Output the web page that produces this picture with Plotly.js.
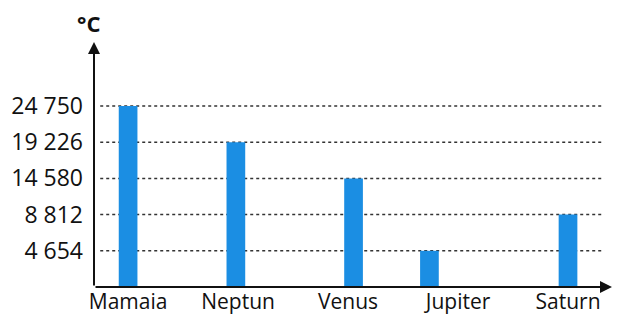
<!DOCTYPE html>
<html><head><meta charset="utf-8">
<script src="https://cdn.plot.ly/plotly-3.0.1.min.js"></script>
<style>html,body{margin:0;padding:0;background:#fff;}#chart{width:617px;height:314px;}</style>
</head><body><div id="chart"></div>
<script>
// Data
const categories = ['Mamaia', 'Neptun', 'Venus', 'Jupiter', 'Saturn'];
const values = [24750, 19226, 14580, 4654, 8812];
const tickValues = [4654, 8812, 14580, 19226, 24750];
const tickLabels = ['4 654', '8 812', '14 580', '19 226', '24 750'];
const unitLabel = '°C';

// The y axis of the original is drawn with equally spaced levels, one per value
const sorted = tickValues.slice().sort((a, b) => a - b);
const levelOf = v => sorted.indexOf(v) + 1;
const barLevels = values.map(levelOf);
const tickLevels = tickValues.map(levelOf);

const barW = 0.17;
const barShift = [0, -0.02, 0.05, -0.26, 0];

const font = 'Open Sans, sans-serif';
const ink = '#111';

const shapes = tickLevels.map(l => ({
  type: 'line', xref: 'paper', yref: 'y', x0: 0.012, x1: 0.985, y0: l, y1: l,
  line: {color: '#333', width: 1.5, dash: 'dot'}, layer: 'below'
}));

const data = [{
  type: 'bar', x: categories, y: barLevels,
  width: barW,
  offset: barShift.map(s => s - barW / 2),
  marker: {color: '#1b8ee3', line: {width: 0}},
  hoverinfo: 'skip'
}];

const layout = {
  width: 617, height: 314,
  margin: {l: 94, r: 5, t: 42, b: 27},
  paper_bgcolor: '#fff', plot_bgcolor: '#fff',
  showlegend: false,
  xaxis: {
    type: 'category', range: [-0.31, 4.4],
    showgrid: false, zeroline: false, showline: false, ticks: '',
    tickfont: {family: font, size: 21, color: ink},
    ticklabelstandoff: 0, fixedrange: true
  },
  yaxis: {
    range: [0, 6.77],
    tickvals: tickLevels, ticktext: tickLabels,
    showgrid: false, zeroline: false, showline: false, ticks: '',
    tickfont: {family: font, size: 23, color: ink},
    ticklabelstandoff: 10, fixedrange: true
  },
  shapes: shapes,
  annotations: [
    {xref: 'paper', yref: 'paper', x: 0, y: 1, ax: 0, ay: 245, axref: 'pixel', ayref: 'pixel',
     showarrow: true, arrowhead: 2, arrowsize: 1.2, arrowwidth: 2, arrowcolor: ink, text: '', standoff: 0, startstandoff: 0},
    {xref: 'paper', yref: 'paper', x: 1, y: 0, ax: -518, ay: 0, axref: 'pixel', ayref: 'pixel',
     showarrow: true, arrowhead: 2, arrowsize: 1.2, arrowwidth: 2, arrowcolor: ink, text: '', standoff: 0, startstandoff: 0},
    {xref: 'paper', yref: 'paper', x: 0, y: 1, yshift: 19, xshift: -6, showarrow: false,
     text: '<b>' + unitLabel + '</b>', font: {family: font, size: 22, color: ink},
     xanchor: 'center', yanchor: 'middle'}
  ]
};

Plotly.newPlot('chart', data, layout, {displayModeBar: false, staticPlot: true});
</script>
</body></html>
